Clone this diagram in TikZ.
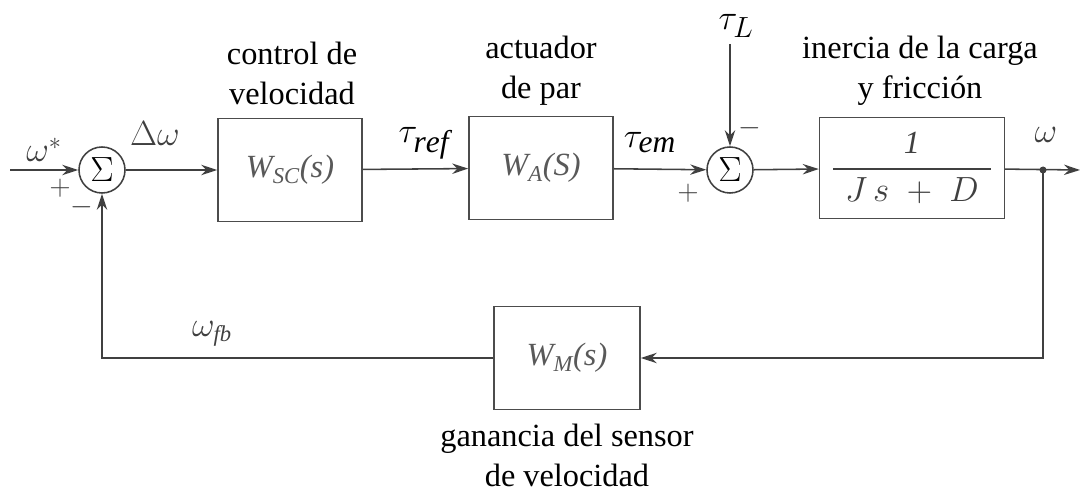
\documentclass[tikz,border=0pt]{standalone}
\usepackage{amsmath}
\usepackage{fontspec}
\setmainfont{Liberation Serif}
\usetikzlibrary{positioning, arrows.meta}

\begin{document}
\begin{tikzpicture}[
    x=0.025cm, y=-0.025cm,
    % Transfer function blocks
    block/.style={rectangle, draw=black!70, line width=1.1pt, minimum width=3.6cm, minimum height=2.58cm, fill=white, text=black!65, font=\fontsize{23}{28}\selectfont\itshape},
    % Summing junctions
    sum_node/.style={circle, draw=black!75, line width=1.1pt, minimum size=1.15cm, inner sep=0pt, font=\fontsize{26}{30}\selectfont},
    % Signal lines
    signal/.style={-{Stealth[length=4mm, width=2.6mm]}, line width=1.1pt, color=black!75},
    % Captions above/below the blocks
    caption/.style={align=center, font=\fontsize{23}{28.5}\selectfont},
    sig_label/.style={font=\fontsize{23}{26}\selectfont, text=black!75},
    tau_label/.style={font=\fontsize{32}{34}\selectfont},
    sign/.style={font=\fontsize{20}{24}\selectfont, text=black!75}
]
    \useasboundingbox (0,0) rectangle (1080,491);

    % --- SUMMING JUNCTIONS ---
    \node[sum_node] (S1) at (102, 170) {$\Sigma$};
    \node[sum_node] (S2) at (730, 170) {$\Sigma$};

    % --- BLOCKS ---
    \node[block] (WSC) at (290, 170) {W\textsubscript{SC}(s)};
    \node[block] (WA) at (541, 168) {W\textsubscript{A}(S)};
    \node[block, minimum width=4.62cm, minimum height=2.52cm, text=black!75] (WL) at (912, 168) {$\genfrac{}{}{1.6pt}{0}{\mathit{1}}{\hspace{0.3cm}J\,s\;+\;D\hspace{0.3cm}}$};
    \node[block, minimum width=3.65cm] (WM) at (567, 358) {W\textsubscript{M}(s)};

    % --- AUXILIARY POINTS ---
    \coordinate (IN) at (10, 170);
    \coordinate (OUT) at (1080, 170);
    \coordinate (TL) at (730, 44);
    \coordinate (FB) at (1043, 170);
    \fill[black!75] (FB) circle (3.5);

    % --- FORWARD PATH ---
    \draw[signal] (IN) -- (S1);
    \draw[signal] (S1) -- (WSC);
    \draw[signal] (WSC) -- (WA);
    \draw[signal] (WA) -- (S2);
    \draw[signal] (TL) -- (S2);
    \draw[signal] (S2) -- (WL);
    \draw[signal] (WL) -- (OUT);

    % --- FEEDBACK PATH ---
    \draw[signal] (FB) |- (WM);
    \draw[signal] (WM) -| (S1);

    % --- SIGNAL LABELS ---
    \node[sig_label] (wref) at (44, 150) {$\omega^{*}$};
    \node[sig_label] (dw) at (155, 134) {$\Delta\omega$};
    \node[tau_label] (tref) at (424, 143) {$\tau_{\mathit{ref}}$};
    \node[tau_label] (tem) at (650, 143) {$\tau_{\mathit{em}}$};
    \node[tau_label, font=\fontsize{29}{32}\selectfont] (tload) at (736, 26) {$\tau_L$};
    \node[sig_label] (wout) at (1046, 135) {$\omega$};
    \node[sig_label] (wfb) at (212, 334) {$\omega_{\mathit{fb}}$};

    % --- SIGNS ---
    \node[sign] (p1) at (60, 188) {$+$};
    \node[sign] (m1) at (82, 207) {$-$};
    \node[sign] (p2) at (688, 193) {$+$};
    \node[sign] (m2) at (750, 128) {$-$};

    % --- CAPTIONS ---
    \node[caption] (c1) at (292, 73) {control de\\velocidad};
    \node[caption] (c2) at (541, 71) {actuador\\de par};
    \node[caption] (c3) at (920, 71) {inercia de la carga\\y fricción};
    \node[caption] (c4) at (567, 455) {ganancia del sensor\\de velocidad};

\end{tikzpicture}
\end{document}
